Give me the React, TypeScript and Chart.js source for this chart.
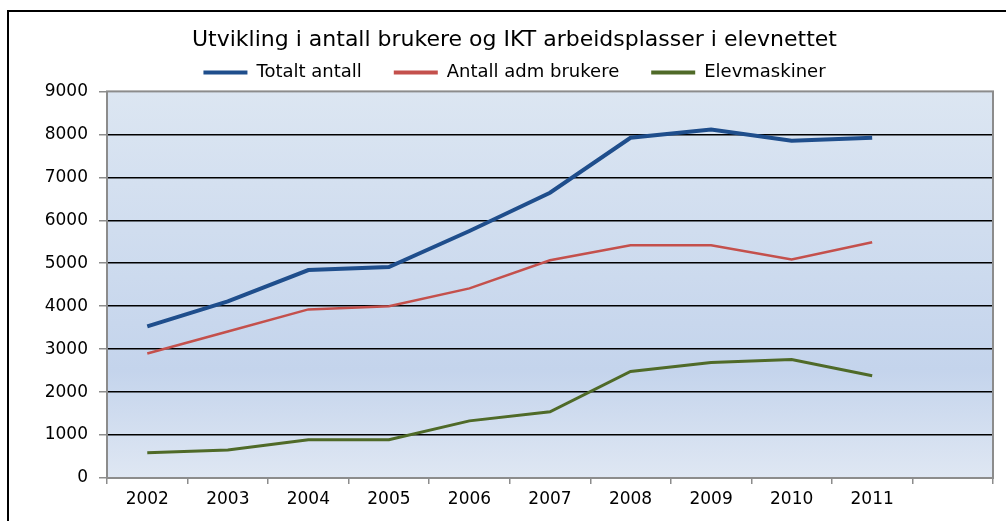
import React, { useEffect, useRef } from "react";
import { Chart, registerables } from "chart.js";

Chart.register(...registerables);

const years = ["2002", "2003", "2004", "2005", "2006", "2007", "2008", "2009", "2010", "2011", ""];
const totaltAntall = [3530, 4110, 4840, 4910, 5750, 6640, 7920, 8110, 7850, 7920];
const admBrukere = [2900, 3410, 3925, 4000, 4415, 5070, 5420, 5420, 5090, 5490];
const elevmaskiner = [585, 654, 890, 890, 1330, 1540, 2480, 2690, 2760, 2380];
const titleText = "Utvikling i antall brukere og IKT arbeidsplasser i elevnettet";

const FONT = "'DejaVu Sans', Verdana, sans-serif";
const PAD_LEFT = 36;

const plotDecor = {
  id: "plotDecor",
  beforeDraw(chart: any) {
    const { ctx, chartArea } = chart;
    const { left, top, right, bottom } = chartArea;
    const g = ctx.createLinearGradient(0, top, 0, bottom);
    g.addColorStop(0, "#dce6f2");
    g.addColorStop(0.72, "#c4d4ec");
    g.addColorStop(1, "#dfe7f3");
    ctx.save();
    ctx.fillStyle = g;
    ctx.fillRect(left, top, right - left, bottom - top);
    ctx.restore();
  },
  beforeDatasetsDraw(chart: any) {
    const { ctx, chartArea } = chart;
    const { left, top, right, bottom } = chartArea;
    ctx.save();
    ctx.strokeStyle = "#8c8c8c";
    ctx.lineWidth = 2;
    ctx.strokeRect(left, top, right - left, bottom - top);
    ctx.restore();
  },
};

export default function App() {
  const ref = useRef<HTMLCanvasElement | null>(null);
  useEffect(() => {
    if (!ref.current) return;
    const mk = (label: string, data: number[], color: string, w: number) => ({
      label,
      data,
      borderColor: color,
      backgroundColor: color,
      borderWidth: w,
      pointRadius: 0,
      tension: 0,
      fill: false,
    });
    const chart = new Chart(ref.current, {
      type: "line",
      data: {
        labels: years,
        datasets: [
          mk("Totalt antall", totaltAntall, "#1f4e8c", 4),
          mk("Antall adm brukere", admBrukere, "#c4504c", 2.5),
          mk("Elevmaskiner", elevmaskiner, "#4f6a28", 3),
        ],
      },
      plugins: [plotDecor],
      options: {
        animation: false,
        responsive: false,
        devicePixelRatio: 1,
        layout: { padding: { left: PAD_LEFT, right: 13, top: 0, bottom: 0 } },
        plugins: {
          title: {
            display: true,
            text: titleText,
            color: "#000",
            font: { family: FONT, size: 22, weight: "normal" },
            padding: { top: 27, bottom: -22 },
          },
          legend: {
            display: true,
            labels: {
              color: "#000",
              font: { family: FONT, size: 18 },
              boxWidth: 44,
              boxHeight: 4,
              padding: 32,
              generateLabels: (c: any) =>
                Chart.defaults.plugins.legend.labels
                  .generateLabels(c)
                  .map((l: any) => ({ ...l, lineWidth: 0 })),
            },
          },
          tooltip: { enabled: false },
        },
        scales: {
          x: {
            offset: true,
            grid: {
              offset: true,
              drawOnChartArea: false,
              tickColor: "#8c8c8c",
              tickLength: 6,
              lineWidth: 1.5,
            },
            border: { display: false },
            ticks: {
              color: "#000",
              font: { family: FONT, size: 17 },
              padding: 5,
              maxRotation: 0,
              autoSkip: false,
            },
            afterFit: (s: any) => {
              s.height = 43;
            },
          },
          y: {
            min: 0,
            max: 9000,
            ticks: {
              stepSize: 1000,
              color: "#000",
              font: { family: FONT, size: 17 },
              padding: 11,
              callback: (v: any) => String(v),
            },
            grid: {
              color: (c: any) =>
                c.tick && (c.tick.value === 0 || c.tick.value === 9000) ? "rgba(0,0,0,0)" : "#000",
              tickColor: "#8c8c8c",
              tickLength: 8,
              lineWidth: 1.5,
            },
            border: { display: false },
            afterFit: (s: any) => {
              s.width = 107 - PAD_LEFT;
            },
          },
        },
      },
    } as any);
    return () => chart.destroy();
  }, []);

  return (
    <div style={{ position: "fixed", left: 0, top: 0, width: 1006, height: 521, background: "#fff", overflow: "hidden" }}>
      <div
        style={{
          position: "absolute",
          left: 7,
          top: 10,
          width: 2000,
          height: 2000,
          borderLeft: "2px solid #000",
          borderTop: "2px solid #000",
        }}
      />
      <canvas ref={ref} width={1006} height={521} style={{ position: "absolute", left: 0, top: 0 }} />
    </div>
  );
}
